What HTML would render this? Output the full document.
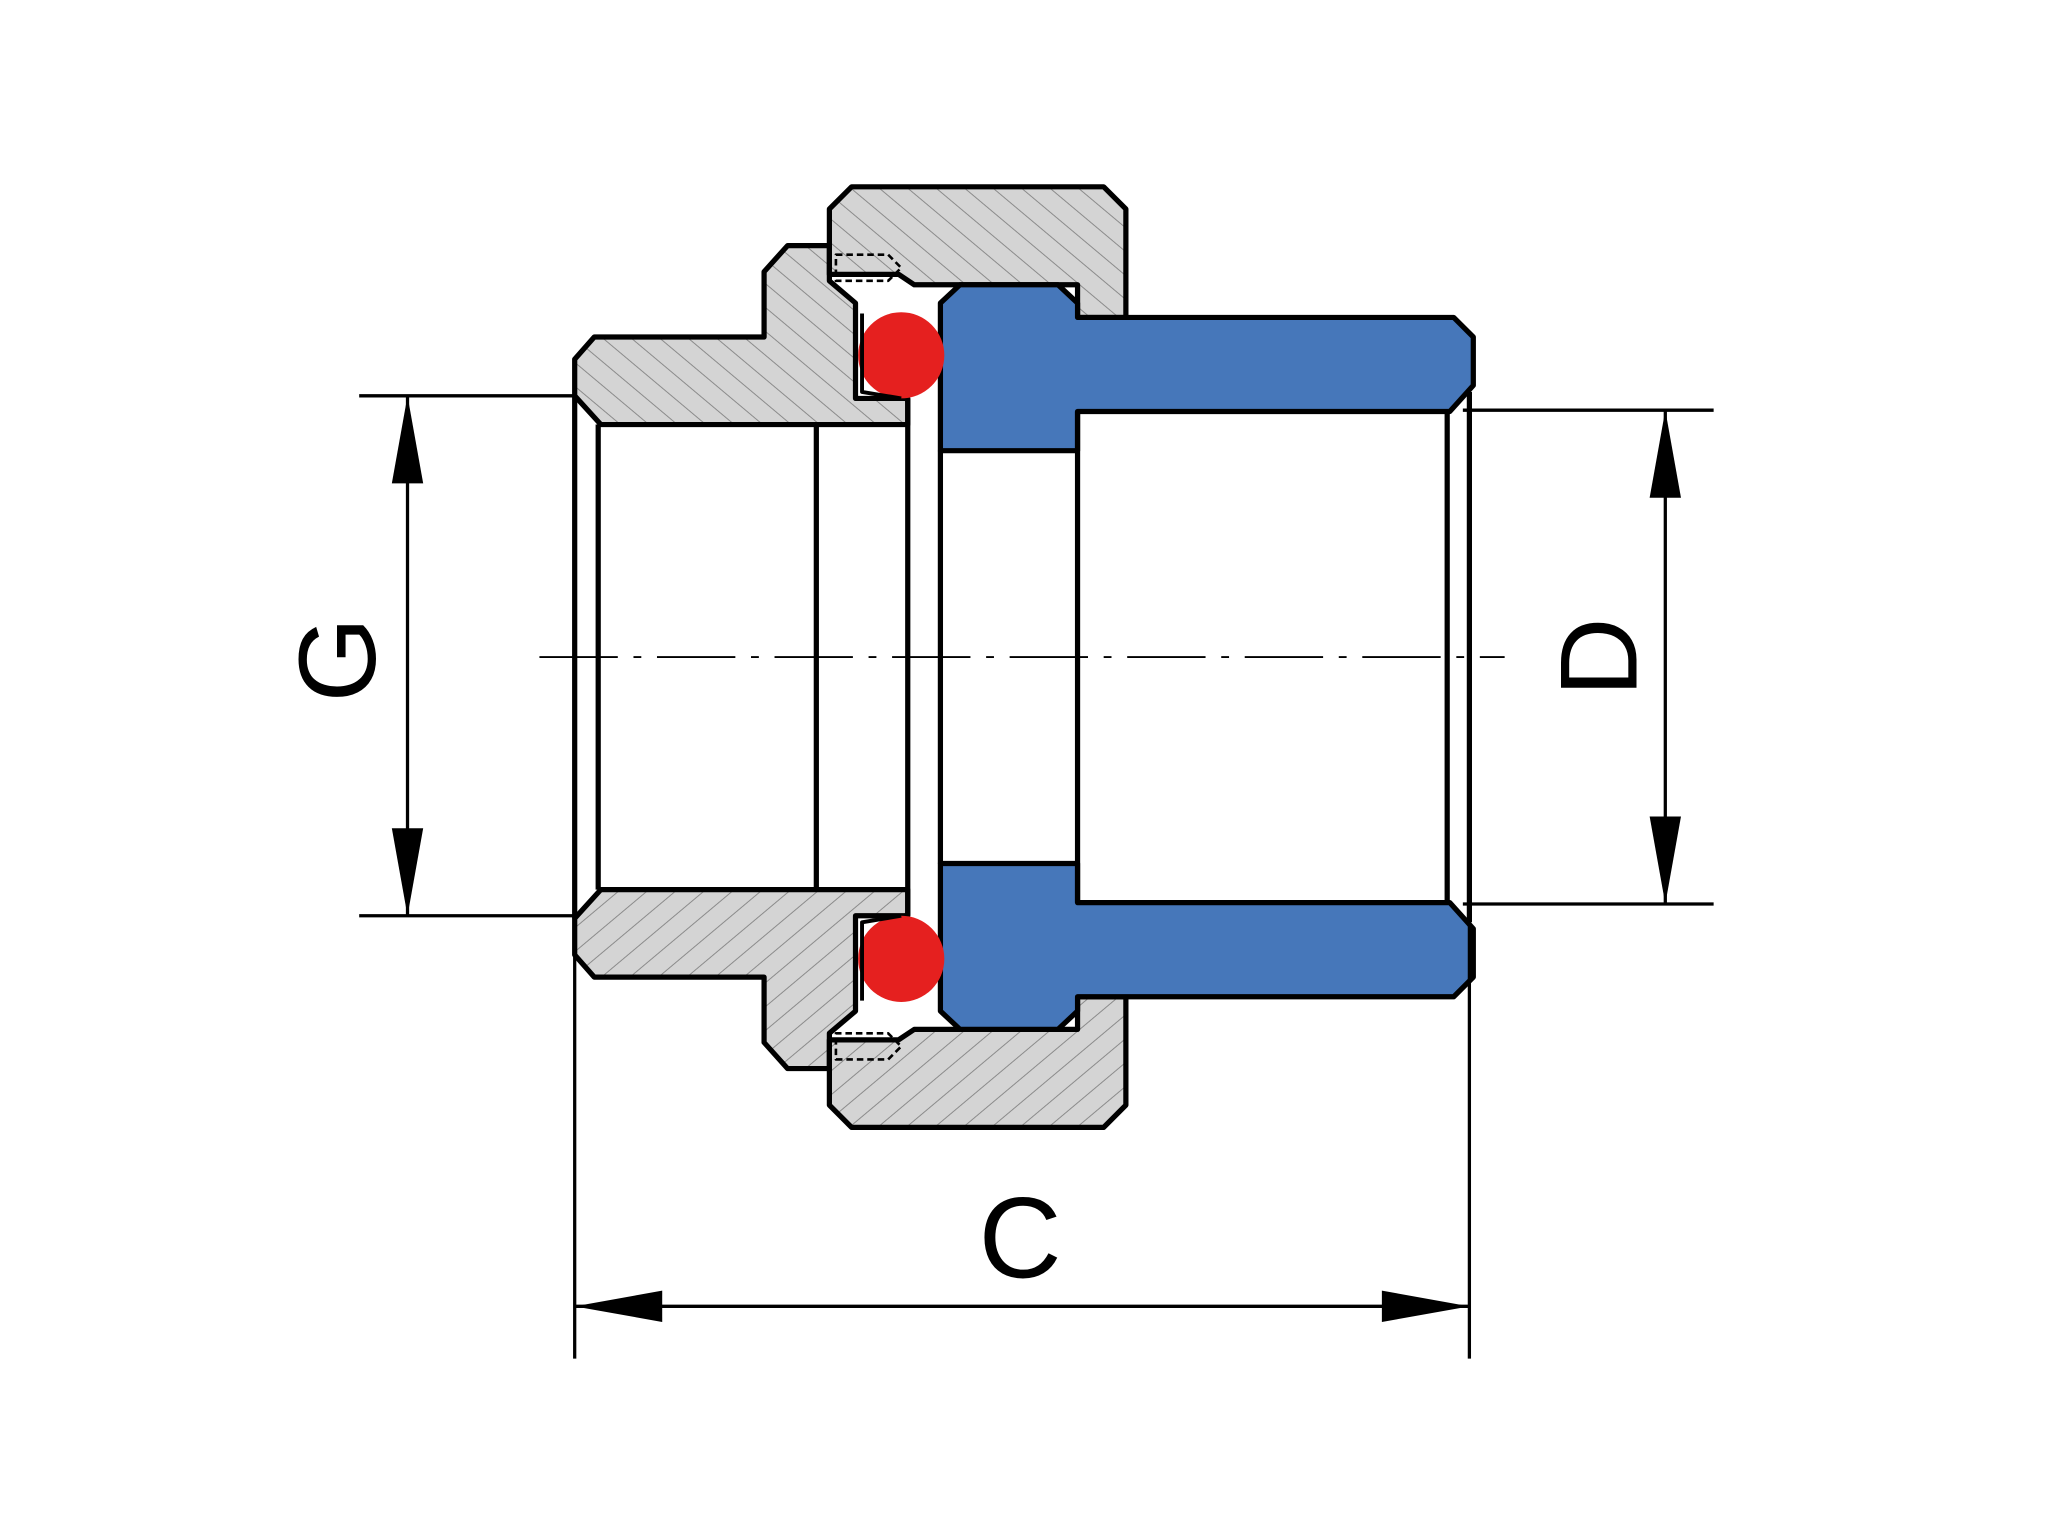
<!DOCTYPE html>
<html><head><meta charset="utf-8"><style>
html,body{margin:0;padding:0;background:#fff;}
svg{display:block;}
text{font-family:"Liberation Sans",sans-serif;fill:#000;}
</style></head><body>
<svg width="2048" height="1531" viewBox="0 0 1568 1172" preserveAspectRatio="none" xmlns="http://www.w3.org/2000/svg">
<defs>
<pattern id="h" patternUnits="userSpaceOnUse" width="14" height="14" patternTransform="rotate(-50)">
<rect width="14" height="14" fill="#d4d4d4"/>
<line x1="0" y1="0" x2="0" y2="14" stroke="#8a8a8a" stroke-width="1.5"/>
</pattern>
</defs>
<rect width="1568" height="1172" fill="#fff"/>
<g id="top" stroke="#000" stroke-width="4" stroke-linejoin="round">
<!-- left brass piece -->
<path d="M440,275 L455,258 L585,258 L585,208 L603,188 L635,188 L635,215 L655,232 L655,305 L695,305 L695,325 L460,325 L440,303 Z" fill="url(#h)"/>
<!-- nut -->
<path d="M635,160 L652,143 L845,143 L862,160 L862,243 L825,243 L825,218 L700,218 L688,210 L635,210 Z" fill="url(#h)"/>
<path d="M640,195 L680,195 L690,205 L680,215 L640,215 Z" fill="none" stroke-width="2" stroke-dasharray="5,3"/>
<!-- blue piece -->
<path d="M720,232 L735,218 L810,218 L825,232 L825,243 L1113,243 L1128,258 L1128,295 L1110,315 L825,315 L825,345 L720,345 Z" fill="#4677ba"/>
<!-- o-ring -->
<circle cx="690" cy="272" r="33" fill="#e5201f" stroke="none"/>
<path d="M660,240 L660,300 L690,305" fill="none" stroke-width="3"/>
</g>
<use href="#top" transform="translate(0,1006) scale(1,-1)"/>
<!-- bore lines -->
<g stroke="#000" stroke-width="4" fill="none">
<line x1="440" y1="303" x2="440" y2="703"/>
<line x1="458" y1="325" x2="458" y2="681"/>
<line x1="625" y1="325" x2="625" y2="681"/>
<line x1="695" y1="305" x2="695" y2="701"/>
<line x1="720" y1="345" x2="720" y2="661"/>
<line x1="825" y1="315" x2="825" y2="691"/>
<line x1="1108" y1="315" x2="1108" y2="691"/>
<line x1="1125" y1="300" x2="1125" y2="706"/>
</g>
<!-- centerline -->
<line x1="413" y1="503" x2="1152" y2="503" stroke="#000" stroke-width="1.5" stroke-dasharray="60,12,6,12"/>
<!-- G dimension -->
<g stroke="#000" stroke-width="2.5" fill="none">
<line x1="275" y1="303" x2="440" y2="303"/>
<line x1="275" y1="701" x2="440" y2="701"/>
<line x1="312" y1="303" x2="312" y2="701"/>
<line x1="1120" y1="314" x2="1312" y2="314"/>
<line x1="1120" y1="692" x2="1312" y2="692"/>
<line x1="1275" y1="314" x2="1275" y2="692"/>
<line x1="440" y1="705" x2="440" y2="1040"/>
<line x1="1125" y1="705" x2="1125" y2="1040"/>
<line x1="440" y1="1000" x2="1125" y2="1000"/>
</g>
<g fill="#000">
<polygon points="312,303 300,370 324,370"/>
<polygon points="312,701 300,634 324,634"/>
<polygon points="1275,314 1263,381 1287,381"/>
<polygon points="1275,692 1263,625 1287,625"/>
<polygon points="440,1000 507,988 507,1012"/>
<polygon points="1125,1000 1058,988 1058,1012"/>
</g>
<text x="0" y="0" font-size="84" text-anchor="middle" transform="translate(287,505) rotate(-90)">G</text>
<text x="0" y="0" font-size="84" text-anchor="middle" transform="translate(1253,503) rotate(-90)">D</text>
<text x="781" y="978" font-size="88" text-anchor="middle">C</text>
</svg>
</body></html>
